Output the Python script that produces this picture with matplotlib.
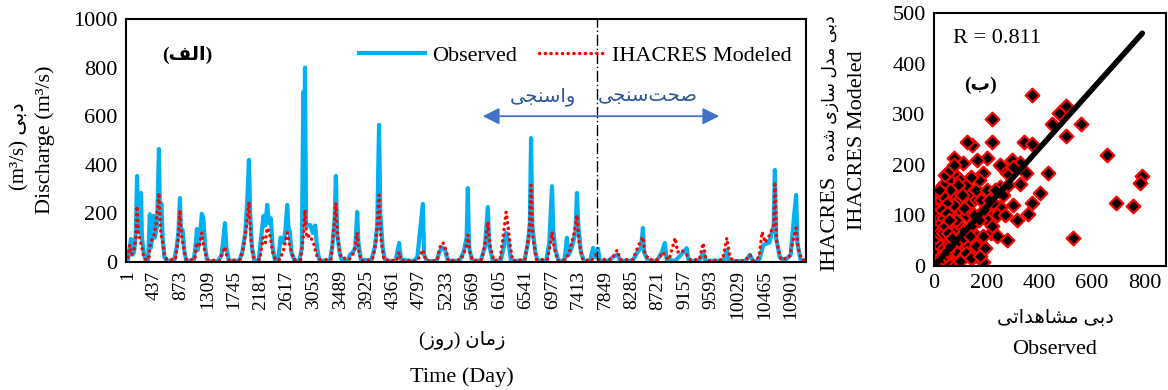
import unicodedata
import matplotlib
matplotlib.use('Agg')
import matplotlib.pyplot as plt

# observed discharge (day, m3/s)
obs_day = [0, 30, 50, 70, 100, 130, 150, 165, 200, 215, 230, 260, 290,
           330, 350, 360, 380, 420, 440, 480, 510, 525, 550, 570, 600, 640,
           760, 800, 830, 855, 870, 900, 930, 960,
           1080, 1110, 1135, 1150, 1190, 1215, 1240, 1270, 1300, 1340,
           1480, 1540, 1575, 1595, 1620, 1660,
           1830, 1880, 1930, 1965, 1990, 2010, 2040, 2080,
           2150, 2190, 2230, 2260, 2290, 2320, 2350, 2380, 2420,
           2470, 2510, 2560, 2590, 2620, 2640, 2660, 2690, 2740,
           2820, 2860, 2885, 2900, 2912, 2930, 2960, 3000, 3040, 3080, 3110, 3150,
           3320, 3360, 3400, 3420, 3440, 3480, 3520,
           3620, 3650, 3700, 3740, 3770, 3790, 3830,
           4000, 4060, 4100, 4130, 4150, 4190, 4230,
           4400, 4460, 4490, 4700, 4760, 4850, 4870, 4920,
           5080, 5120, 5170, 5215, 5260,
           5450, 5520, 5570, 5590, 5610, 5660,
           5800, 5870, 5920, 5940, 6000,
           6130, 6180, 6220, 6260, 6300,
           6520, 6580, 6610, 6630, 6650, 6700, 6740,
           6880, 6930, 6975, 6995, 7030, 7080,
           7180, 7220, 7250, 7300, 7360, 7385, 7410, 7450, 7500,
           7600, 7650, 7690, 7730, 7760,
           7900, 8000, 8050, 8100, 8300, 8380, 8440, 8470, 8490, 8550,
           8700, 8780, 8830, 8860, 9000, 9100, 9190, 9220, 9400, 9460, 9500,
           9800, 9850, 9880, 10150, 10230, 10280, 10380, 10450, 10550, 10620,
           10640, 10660, 10720, 10800, 10900, 10960, 10990, 11010, 11060, 11140]
obs_q = [10, 60, 95, 30, 40, 120, 354, 150, 120, 284, 100, 40, 5,
         5, 120, 197, 60, 190, 100, 150, 465, 200, 240, 100, 20, 5,
         5, 60, 120, 263, 140, 130, 40, 5,
         5, 60, 136, 50, 120, 198, 180, 60, 10, 3,
         3, 30, 110, 160, 60, 5,
         5, 40, 120, 267, 420, 200, 60, 5,
         5, 100, 190, 150, 235, 160, 180, 60, 5,
         5, 100, 80, 130, 235, 140, 130, 40, 5,
         5, 60, 700, 300, 800, 160, 150, 152, 120, 150, 60, 5,
         5, 60, 180, 354, 120, 40, 5,
         5, 30, 40, 60, 206, 80, 10,
         5, 60, 150, 564, 200, 60, 5,
         3, 78, 10, 3, 20, 239, 30, 3,
         5, 40, 60, 50, 5,
         5, 40, 100, 304, 60, 5,
         5, 60, 226, 70, 5,
         5, 60, 120, 80, 5,
         5, 80, 160, 510, 150, 40, 5,
         5, 80, 312, 130, 50, 5,
         5, 100, 30, 60, 120, 284, 140, 40, 5,
         5, 58, 20, 55, 5,
         5, 25, 30, 5, 5, 40, 60, 140, 40, 5,
         5, 40, 78, 10, 5, 30, 57, 5, 5, 40, 5,
         5, 50, 5, 3, 29, 3, 5, 70, 80, 150,
         379, 100, 20, 5, 30, 200, 276, 80, 10, 5]

# IHACRES modeled discharge
mod_day = [0, 30, 60, 100, 130, 150, 170, 200, 230, 260, 300,
           340, 370, 420, 460, 510, 540, 570, 600, 640,
           780, 820, 855, 880, 920, 960,
           1100, 1130, 1170, 1215, 1250, 1300,
           1500, 1560, 1595, 1630, 1670,
           1850, 1900, 1950, 1990, 2020, 2060,
           2170, 2220, 2260, 2290, 2330, 2380, 2420,
           2500, 2560, 2620, 2660, 2720,
           2840, 2890, 2912, 2940, 2990, 3050, 3100, 3150,
           3340, 3380, 3420, 3450, 3500,
           3640, 3720, 3770, 3800, 3840,
           4020, 4080, 4130, 4160, 4210,
           4420, 4460, 4500, 4760, 4850, 4900,
           5080, 5130, 5180, 5230, 5270,
           5480, 5560, 5590, 5630, 5680,
           5820, 5890, 5920, 5960, 6020,
           6120, 6180, 6220, 6250, 6290, 6330,
           6530, 6600, 6630, 6660, 6720,
           6900, 6950, 6975, 7010, 7070,
           7200, 7260, 7340, 7385, 7420, 7480,
           7620, 7700, 7740,
           7950, 8045, 8100, 8300, 8420, 8470, 8500, 8560,
           8720, 8800, 8840, 8900, 9000, 9040, 9100, 9190, 9240,
           9400, 9460, 9500, 9560, 9780, 9850, 9900, 9960,
           10150, 10230, 10280, 10380, 10430, 10480, 10550, 10620, 10640,
           10670, 10740, 10880, 10950, 10990, 11020, 11080, 11140]
mod_q = [20, 70, 30, 50, 100, 230, 120, 90, 60, 20, 10,
         10, 80, 100, 150, 284, 120, 80, 30, 10,
         10, 80, 214, 110, 50, 10,
         10, 80, 60, 120, 60, 10,
         5, 40, 62, 20, 5,
         10, 60, 150, 247, 100, 20,
         10, 100, 80, 140, 120, 40, 10,
         10, 50, 120, 70, 10,
         10, 120, 214, 100, 110, 80, 30, 10,
         10, 120, 243, 100, 20,
         10, 40, 120, 40, 5,
         10, 80, 276, 100, 10,
         5, 40, 5, 5, 50, 5,
         5, 60, 80, 50, 5,
         10, 60, 111, 30, 5,
         10, 100, 165, 60, 5,
         10, 120, 206, 150, 60, 5,
         10, 120, 317, 100, 10,
         10, 80, 123, 60, 5,
         10, 40, 120, 193, 80, 10,
         5, 30, 10,
         10, 49, 10, 10, 80, 103, 40, 10,
         10, 40, 20, 10, 99, 40, 50, 30, 10,
         10, 78, 20, 5, 10, 99, 20, 5,
         5, 30, 5, 20, 124, 80, 110, 150, 330,
         80, 10, 20, 100, 140, 60, 10, 5]

xtick_days = list(range(1, 11000, 436))
split_day = 7720

# scatter: observed vs modeled
sc_obs = [370, 221, 500, 474, 447, 556, 500, 656, 789, 781, 689, 755, 527,
          432, 402, 372, 355, 219, 143, 124, 77, 341, 372, 276, 314, 184,
          143, 216, 250, 301, 295, 349, 202, 162, 111, 187, 276, 250, 225,
          149, 124, 86, 67, 99, 174, 137, 111, 174, 200, 326, 257, 326, 301,
          5, 10, 15, 20, 30, 40, 50, 60, 70, 30, 20, 10, 40, 60, 80, 100,
          90, 50, 35, 25, 15, 45, 55, 65, 80, 120, 110, 140, 130, 150, 160,
          100, 70, 50, 30, 10, 3, 8, 12, 18, 22, 28, 35, 40, 60, 75, 100,
          120, 160, 180, 200, 200, 220, 240, 130, 150, 100, 80, 60, 20, 40,
          5, 2, 6, 15, 25, 35, 45, 12, 18, 8,
          5, 8, 12, 15, 20, 25, 10, 6, 3, 30, 45, 60, 80, 90, 110, 70, 55,
          40, 35, 25, 18, 50, 65, 85, 95, 75, 45, 105, 115, 135, 160, 170,
          185, 190, 210, 230, 170, 140, 90, 60, 30, 20, 100, 120, 140, 175,
          195, 240, 260, 280, 250, 270,
          2, 4, 7, 9, 11, 14, 16, 19, 22, 26, 29, 33, 37, 42, 48, 52, 58,
          3, 6, 10, 13, 17, 21, 24, 28, 32, 38, 44, 50, 56, 62, 68]
sc_mod = [338, 290, 316, 302, 281, 281, 256, 219, 178, 165, 125, 119, 55,
          184, 145, 125, 102, 246, 240, 246, 213, 246, 241, 51, 91, 8,
          15, 65, 117, 120, 209, 183, 213, 209, 203, 183, 183, 157, 124,
          130, 140, 176, 137, 104, 97, 65, 38, 45, 104, 163, 196, 203, 196,
          5, 20, 10, 40, 60, 80, 100, 120, 150, 90, 70, 40, 30, 50, 60, 80,
          110, 130, 110, 100, 60, 150, 170, 140, 140, 100, 70, 80, 120, 100, 60,
          40, 20, 15, 5, 2, 8, 30, 50, 85, 115, 140, 160, 180, 190, 200, 170,
          160, 150, 130, 150, 90, 80, 100, 40, 30, 20, 5, 8, 20, 50,
          2, 10, 15, 25, 45, 70, 90, 0, 35, 12,
          15, 45, 70, 95, 120, 130, 110, 80, 40, 20, 10, 25, 30, 50, 55, 70, 85,
          100, 75, 55, 35, 45, 100, 90, 130, 120, 125, 140, 115, 60, 40, 90,
          60, 110, 130, 150, 170, 175, 160, 150, 140, 150, 10, 25, 15, 20,
          35, 60, 140, 160, 200, 100,
          25, 60, 35, 90, 55, 75, 105, 65, 95, 85, 110, 65, 95, 80, 105, 65, 90,
          10, 5, 18, 8, 28, 12, 40, 20, 15, 35, 22, 30, 45, 40, 55]

fit_x = [0, 790]
fit_y = [0, 460]

FONT = ['Liberation Serif', 'DejaVu Sans']
plt.rcParams['font.family'] = FONT
plt.rcParams['font.size'] = 16

RIGHT_ONLY = set('اآدذرزژو')


def is_ar(c):
    return '\u0600' <= c <= '\u06ff'


def fa(s):
    # rough persian shaping: pick presentation forms and flip to visual order
    out = []
    for i, c in enumerate(s):
        if not is_ar(c):
            out.append(c)
            continue
        prev = s[i - 1] if i > 0 else ''
        nxt = s[i + 1] if i < len(s) - 1 else ''
        jp = prev != '' and is_ar(prev) and prev not in RIGHT_ONLY
        jn = c not in RIGHT_ONLY and nxt != '' and is_ar(nxt)
        form = {(True, True): 'MEDIAL', (True, False): 'FINAL',
                (False, True): 'INITIAL', (False, False): 'ISOLATED'}[(jp, jn)]
        try:
            out.append(unicodedata.lookup(unicodedata.name(c) + ' ' + form + ' FORM'))
        except KeyError:
            out.append(c)
    return ''.join(out).replace('\u200c', '')[::-1]


fig = plt.figure(figsize=(11.68, 3.9), dpi=100)

# time series panel
ax = fig.add_axes([126 / 1168, 128 / 390, 680 / 1168, 243 / 390])
l1, = ax.plot(obs_day, obs_q, color='#00B0F0', lw=3, label='Observed')
l2, = ax.plot(mod_day, mod_q, color='red', lw=2.5, ls=(0, (0.05, 1.6)),
              dash_capstyle='round', label='IHACRES Modeled')
ax.set_xlim(-32, 11152)
ax.set_ylim(0, 1000)
ax.set_yticks(range(0, 1001, 200))
ax.set_xticks(xtick_days)
ax.set_xticklabels([str(d) for d in xtick_days], rotation=90, fontsize=14)
ax.tick_params(length=0, pad=6)
for sp in ax.spines.values():
    sp.set_linewidth(1.5)
ax.axvline(split_day, color='k', lw=1, ls=(0, (8, 2, 1, 2)))
ax.annotate('', xy=(5790, 600), xytext=(9770, 600),
            arrowprops=dict(arrowstyle='<|-|>', color='#4472C4', lw=1.3,
                            mutation_scale=25))
ax.text(6825, 680, fa('واسنجی'), color='#2F5597', fontsize=14, ha='center', va='center')
ax.text(8550, 680, fa('صحت\u200cسنجی'), color='#2F5597', fontsize=14, ha='center', va='center')
ax.text(0.09, 0.85, '(' + fa('الف') + ')', transform=ax.transAxes, fontsize=14,
        fontweight='bold', ha='center', va='center')
ax.legend(handles=[l1, l2], ncol=2, frameon=False, loc='center left',
          bbox_to_anchor=(0.342, 0.85), handlelength=3.0, handletextpad=0.3,
          columnspacing=1.0, fontsize=16, borderaxespad=0, borderpad=0)

fig.text(20 / 1168, 1 - 146 / 390, '(m³/s) ' + fa('دبی'), rotation=90,
         ha='center', va='center', fontsize=15)
fig.text(45 / 1168, 1 - 140 / 390, 'Discharge (m³/s)', rotation=90,
         ha='center', va='center', fontsize=16)
fig.text(462 / 1168, 1 - 340 / 390, '(' + fa('روز') + ') ' + fa('زمان'),
         ha='center', va='center', fontsize=14)
fig.text(462 / 1168, 1 - 377 / 390, 'Time (Day)', ha='center', va='center', fontsize=16)

# scatter panel
ax2 = fig.add_axes([934 / 1168, 124 / 390, 232 / 1168, 253 / 390])
ax2.scatter(sc_obs, sc_mod, marker='D', s=48, color='black', edgecolor='red',
            linewidth=1.6, zorder=2)
ax2.plot(fit_x, fit_y, color='black', lw=4, solid_capstyle='round', zorder=3)
ax2.set_xlim(0, 880)
ax2.set_ylim(0, 500)
ax2.set_xticks(range(0, 801, 200))
ax2.set_yticks(range(0, 501, 100))
ax2.tick_params(length=0, pad=6)
for sp in ax2.spines.values():
    sp.set_linewidth(1.5)
ax2.text(0.08, 0.9, 'R = 0.811', transform=ax2.transAxes, fontsize=16, va='center')
ax2.text(0.2, 0.715, '(' + fa('ب') + ')', transform=ax2.transAxes, fontsize=14,
         fontweight='bold', ha='center', va='center')

fig.text(830 / 1168, 1 - 223 / 390, 'IHACRES', rotation=90,
         ha='center', va='center', fontsize=16)
fig.text(830 / 1168, 1 - 88 / 390, fa('دبی مدل سازی شده'), rotation=90,
         ha='center', va='center', fontsize=12.5)
fig.text(858 / 1168, 1 - 140 / 390, 'IHACRES Modeled', rotation=90,
         ha='center', va='center', fontsize=16)
fig.text(1055 / 1168, 1 - 318 / 390, fa('دبی مشاهداتی'), ha='center', va='center', fontsize=14)
fig.text(1055 / 1168, 1 - 350 / 390, 'Observed', ha='center', va='center', fontsize=16)

fig.savefig('out.png', dpi=100)
